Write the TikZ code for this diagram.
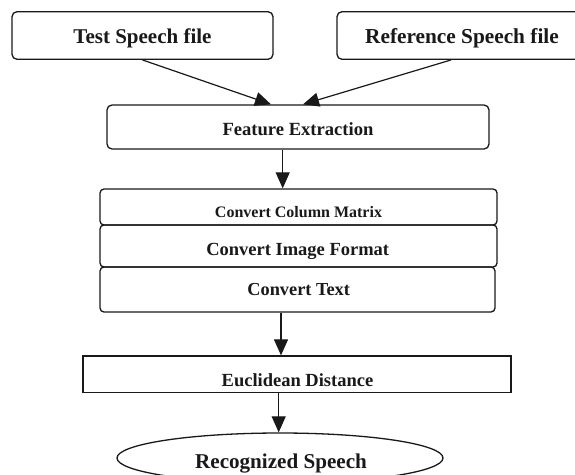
\documentclass[tikz,border=0pt]{standalone}
\usepackage{fontspec}
\setmainfont{Liberation Serif}
\usetikzlibrary{arrows.meta,shapes.geometric}
\begin{document}
\begin{tikzpicture}[x=1pt,y=-1pt,
  rbox/.style={draw=black!90,line width=1.3pt,rounded corners=5pt,inner sep=0pt},
  sbox/.style={draw=black!90,line width=1.3pt,inner sep=0pt},
  txt/.style={anchor=base,inner sep=0pt,text=black!90},
  arr/.style={draw=black!90,line width=1.2pt,-{Triangle[length=16pt,width=14pt]}}]
\clip (0,0) rectangle (575,474);
\fill[white] (0,0) rectangle (575,474);
% boxes
\node[rbox,minimum width=261pt,minimum height=47.6pt] (test) at (142.5,35.5) {};
\node[rbox,minimum width=250pt,minimum height=47.6pt] (ref) at (462,35.5) {};
\node[rbox,minimum width=382pt,minimum height=44pt] (feat) at (298,127) {};
\node[rbox,rounded corners=4pt,minimum width=397pt,minimum height=36pt] (col) at (298.5,207) {};
\node[rbox,rounded corners=4pt,minimum width=397pt,minimum height=42pt] (img) at (298.5,246) {};
\node[rbox,rounded corners=4pt,minimum width=395pt,minimum height=45pt] (ct) at (297.5,289.5) {};
\node[sbox,minimum width=428pt,minimum height=36.7pt] (eucl) at (297,374.35) {};
\node[draw=black!90,line width=1.3pt,ellipse,inner sep=0pt,minimum width=326pt,minimum height=50pt] (rec) at (280,458) {};
% texts
\node[txt,font=\bfseries\fontsize{21}{24}\selectfont] (testt) at (142.5,43.3) {Test Speech file};
\node[txt,font=\bfseries\fontsize{21.3}{24}\selectfont] (reft) at (462,43.3) {Reference Speech file};
\node[txt,font=\bfseries\fontsize{18.6}{22}\selectfont] (featt) at (298,135) {Feature Extraction};
\node[txt,font=\bfseries\fontsize{16}{19}\selectfont] (colt) at (298.5,217.6) {Convert Column Matrix};
\node[txt,font=\bfseries\fontsize{18.5}{22}\selectfont] (imgt) at (297.7,255) {Convert Image Format};
\node[txt,font=\bfseries\fontsize{18.3}{22}\selectfont] (ctt) at (298.7,295) {Convert Text};
\node[txt,font=\bfseries\fontsize{18.5}{22}\selectfont] (euclt) at (297.5,386) {Euclidean Distance};
\node[txt,font=\bfseries\fontsize{21.1}{24}\selectfont] (rect) at (281,468) {Recognized Speech};
% connectors
\draw[arr] (test.south) -- ([xshift=-27pt]feat.north);
\draw[arr] ([xshift=-11pt]ref.south) -- ([xshift=5pt]feat.north);
\draw[arr] ([xshift=-15.3pt]feat.south) -- ([xshift=-15.3pt]feat.south |- col.north);
\draw[arr] ([xshift=-16.5pt]ct.south) -- ([xshift=-16.5pt]ct.south |- eucl.north);
\draw[arr] ([xshift=-18.3pt]eucl.south) -- ([xshift=-18.3pt]eucl.south |- rec.north);
\end{tikzpicture}
\end{document}
